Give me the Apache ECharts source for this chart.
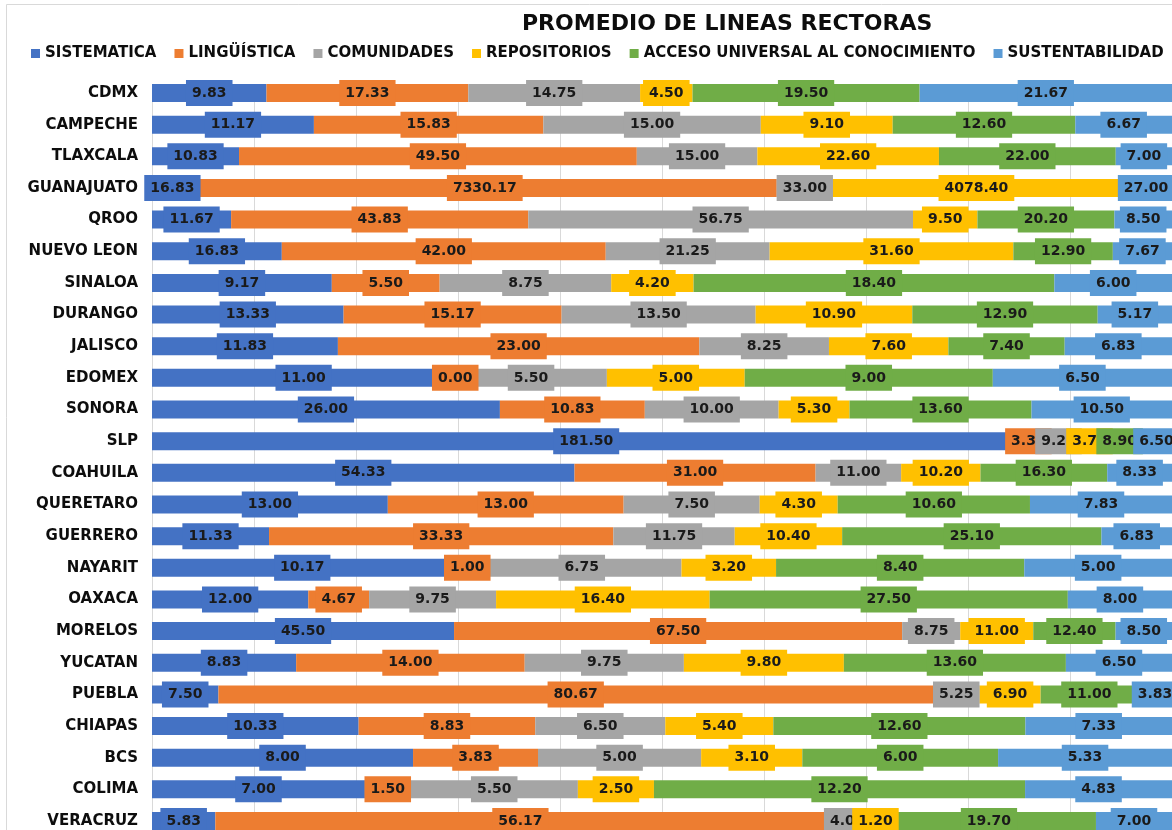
<!DOCTYPE html>
<html>
<head>
<meta charset="utf-8">
<script src="https://cdn.jsdelivr.net/npm/echarts@6/dist/echarts.min.js"></script>
<style>
  html, body { margin: 0; padding: 0; background: #fff; }
  #chart { width: 1172px; height: 830px; }
</style>
</head>
<body>
<div id="chart"></div>
<script>
const FONT = '"DejaVu Sans", sans-serif';

const STATES = ['CDMX', 'CAMPECHE', 'TLAXCALA', 'GUANAJUATO', 'QROO', 'NUEVO LEON', 'SINALOA', 'DURANGO',
    'JALISCO', 'EDOMEX', 'SONORA', 'SLP', 'COAHUILA', 'QUERETARO', 'GUERRERO', 'NAYARIT', 'OAXACA',
    'MORELOS', 'YUCATAN', 'PUEBLA', 'CHIAPAS', 'BCS', 'COLIMA', 'VERACRUZ'];

const SISTEMATICA = [9.83, 11.17, 10.83, 16.83, 11.67, 16.83, 9.17, 13.33, 11.83, 11.00, 26.00, 181.50,
    54.33, 13.00, 11.33, 10.17, 12.00, 45.50, 8.83, 7.50, 10.33, 8.00, 7.00, 5.83];
const LINGUISTICA = [17.33, 15.83, 49.50, 7330.17, 43.83, 42.00, 5.50, 15.17, 23.00, 0.00, 10.83, 3.33,
    31.00, 13.00, 33.33, 1.00, 4.67, 67.50, 14.00, 80.67, 8.83, 3.83, 1.50, 56.17];
const COMUNIDADES = [14.75, 15.00, 15.00, 33.00, 56.75, 21.25, 8.75, 13.50, 8.25, 5.50, 10.00, 9.25,
    11.00, 7.50, 11.75, 6.75, 9.75, 8.75, 9.75, 5.25, 6.50, 5.00, 5.50, 4.00];
const REPOSITORIOS = [4.50, 9.10, 22.60, 4078.40, 9.50, 31.60, 4.20, 10.90, 7.60, 5.00, 5.30, 3.70,
    10.20, 4.30, 10.40, 3.20, 16.40, 11.00, 9.80, 6.90, 5.40, 3.10, 2.50, 1.20];
const ACCESO_UNIVERSAL = [19.50, 12.60, 22.00, null, 20.20, 12.90, 18.40, 12.90, 7.40, 9.00, 13.60, 8.90,
    16.30, 10.60, 25.10, 8.40, 27.50, 12.40, 13.60, 11.00, 12.60, 6.00, 12.20, 19.70];
const SUSTENTABILIDAD = [21.67, 6.67, 7.00, 27.00, 8.50, 7.67, 6.00, 5.17, 6.83, 6.50, 10.50, 6.50,
    8.33, 7.83, 6.83, 5.00, 8.00, 8.50, 6.50, 3.83, 7.33, 5.33, 4.83, 7.00];

// the Guanajuato bar widths do not follow its labels; shares (%)
const GUANAJUATO_SHARES = [4.0, 57.25, 5.5, 28.15, 0, 5.1];

const SERIES_NAMES = ['SISTEMATICA', 'LINGÜÍSTICA', 'COMUNIDADES', 'REPOSITORIOS',
    'ACCESO UNIVERSAL AL CONOCIMIENTO', 'SUSTENTABILIDAD'];
const SERIES_VALUES = [SISTEMATICA, LINGUISTICA, COMUNIDADES, REPOSITORIOS, ACCESO_UNIVERSAL, SUSTENTABILIDAD];
const COLORS = ['#4472C4', '#ED7D31', '#A5A5A5', '#FFC000', '#70AD47', '#5B9BD5'];

const shares = STATES.map((state, i) => {
    if (state === 'GUANAJUATO') return GUANAJUATO_SHARES;
    const vals = SERIES_VALUES.map(arr => arr[i] || 0);
    const total = vals.reduce((a, v) => a + v, 0);
    return vals.map(v => v / total * 100);
});

const chart = echarts.init(document.getElementById('chart'), null, { renderer: 'canvas' });

const barSeries = SERIES_NAMES.map((name, k) => ({
    name: name,
    type: 'bar',
    stack: 'bars',
    barWidth: 18,
    barGap: '-100%',
    clip: true,
    silent: true,
    z: 2,
    itemStyle: { color: COLORS[k] },
    data: shares.map(r => r[k])
}));

// invisible copies that only carry the boxed labels, drawn above every bar
const labelSeries = SERIES_NAMES.map((name, k) => ({
    name: name + ' ',
    type: 'bar',
    stack: 'labels',
    barWidth: 18,
    barGap: '-100%',
    clip: false,
    silent: true,
    z: 3,
    itemStyle: { color: 'transparent', borderWidth: 0 },
    label: {
        show: true,
        position: 'inside',
        backgroundColor: COLORS[k],
        padding: [5, 6, 5, 6],
        lineHeight: 16,
        color: '#1a1a1a',
        fontFamily: FONT,
        fontWeight: 'bold',
        fontSize: 14,
        formatter: p => SERIES_VALUES[k][p.dataIndex].toFixed(2)
    },
    data: shares.map((r, i) => ({
        value: r[k],
        label: { show: SERIES_VALUES[k][i] != null }
    }))
}));

chart.setOption({
    backgroundColor: '#fff',
    animation: false,
    title: {
        text: 'PROMEDIO DE LINEAS RECTORAS',
        left: 517,
        top: 8,
        textStyle: { fontFamily: FONT, fontWeight: 'bold', fontSize: 22, color: '#0d0d0d' }
    },
    legend: {
        data: SERIES_NAMES,
        left: 26,
        top: 41,
        icon: 'rect',
        itemWidth: 9,
        itemHeight: 9,
        itemGap: 18,
        textStyle: { fontFamily: FONT, fontWeight: 'bold', fontSize: 15, color: '#0d0d0d' }
    },
    graphic: [{
        type: 'rect',
        silent: true,
        z: -10,
        shape: { x: 6.5, y: 4.5, width: 1300, height: 900 },
        style: { fill: 'none', stroke: '#d9d9d9', lineWidth: 1 }
    }],
    grid: { left: 152, top: 93, width: 1023, height: 728, containLabel: false },
    xAxis: {
        type: 'value',
        min: 0,
        max: 100,
        interval: 10,
        axisLabel: { show: false },
        axisLine: { show: false },
        axisTick: { show: false },
        splitLine: { show: true, lineStyle: { color: '#d9d9d9', width: 1 } }
    },
    yAxis: {
        type: 'category',
        inverse: true,
        boundaryGap: false,
        data: STATES,
        axisLine: { show: false },
        axisTick: { show: false },
        splitLine: { show: false },
        axisLabel: {
            margin: 14,
            color: '#0d0d0d',
            fontFamily: FONT,
            fontWeight: 'bold',
            fontSize: 15
        }
    },
    series: barSeries.concat(labelSeries)
});
</script>
</body>
</html>
